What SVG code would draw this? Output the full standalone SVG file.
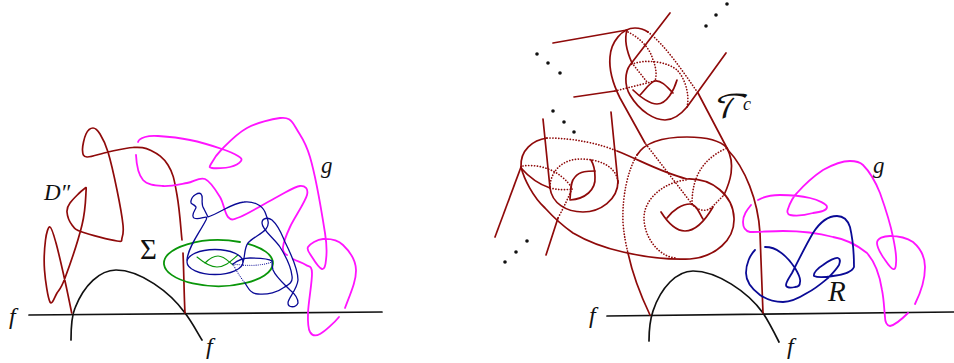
<svg xmlns="http://www.w3.org/2000/svg" width="954" height="363" viewBox="0 0 954 363">
<style>
path,ellipse{fill:none;stroke-linecap:round;stroke-linejoin:round}
.k{stroke:#111;stroke-width:1.7}
.r{stroke:#8f0a0a;stroke-width:1.7}
.d{stroke:#8f0a0a;stroke-width:1.7;stroke-dasharray:.1 2.8}
.m{stroke:#ff14ff;stroke-width:1.8}
.b{stroke:#0a0a96;stroke-width:1.3}
.bd{stroke:#0a0a96;stroke-width:1.1;stroke-dasharray:.1 2}
.bw{stroke:#0a0a96;stroke-width:1.8}
.g{stroke:#0a960a;stroke-width:1.8}
.gt{stroke:#0a960a;stroke-width:1.1}
text{font-family:"Liberation Serif","DejaVu Serif",serif;font-style:italic;fill:#111}
circle{fill:#111}
</style>
<g id="connectors">
<path class="k" d="M29 315 L382 312"/>
<path class="k" d="M71 340 C71 325 72 315 75 308 C84 285 100 270 116 270 C140 270 170 292 185 313 C192 322 197 332 202 340"/>
<path class="k" d="M607 316 L954 312"/>
<path class="k" d="M649 341 C649 328 650 320 653 311 C661 287 677 271 693 271 C717 271 748 292 763 313 C769 322 774 332 779 342"/>
</g>
<g id="D-curve">
<path class="r" d="M71.7 313 C71.7 313 67.6 292.7 65 281 S58.5 252 56 243 S51.75 227.5 50 227 S46.4 232.8 45.5 240 S43.75 259.7 44.5 270 S47.9 298.2 50 302 S54.5 297 57 293 S60.8 289.3 65 278 S78.5 239.3 82 225 S85.7 198 86 192 S86.7 187.2 84 189 S72.8 199.2 70 203 S66.7 208.3 67 212 S69.5 221.7 72 225 S74.5 229.3 82 232 S110.3 240 117 241 S121 240.7 122 238 S123.8 233 123 225 S119.5 202.2 117 190 S110.8 161.3 108 152 S102.5 138 100 134 S95.3 128 93 128 S87.75 130.3 86 134 S82.3 146.2 82.5 150 S82.75 156.7 87 157 S100.3 153.6 108 152 S126 147.7 133 147.5 S144 147 151 150.5 S163 157 168 165 S174 178 177 195 S181 232 182 240"/>
<path class="r" d="M183 253 C184 275 184 295 185 313"/>
</g>
<g id="g-left">
<path class="m" d="M138 142 C139 139 141.7 138 145 137 S150.5 135.5 158 136 S179.3 137.8 190 140 S214 146.3 222 149 S234.8 154 238 156 S242.3 159.2 241 161 S234.8 165.8 230 167 S215.2 168.5 212 168 S209.3 167.2 211 164 S216 155 222 149 S237.3 133.2 247 128 S272.3 119 280 118 S291 119 296 128 S305 140 310 157 S322.3 215.8 325 233 S326.5 254 326 260 S324.3 269.5 322 269 S314.3 260.7 312 257 S306.2 250 308 247 S317.2 239.3 323 239 S337.5 239.8 343 245 S355.7 259.5 356 270 S351 292 345 308"/>
<path class="m" d="M339 317 C335 322 324.8 331.5 320 334 S312 335.5 310 332 S307.7 322.8 308 313 S312.3 281 312 273 S309.2 267.3 306 265 S298 261.5 293 259"/>
<path class="m" d="M287 255 C285 254 282.5 251.7 283 247 S286 235.7 290 227 S305.3 201.8 307 195 S305 185.7 300 186 S287 191.8 277 197 S248.2 213.7 240 217 S231.3 220.3 228 217 S223.8 203.3 220 197 S210.5 181.3 205 179 S194 181.8 187 183 S170.3 186.5 163 186 S147.5 185.2 143 180 S136.5 165 136 155"/>
</g>
<g id="sigma">
<path class="g" d="M248 243.8 A54.5 23 0 1 1 240 242"/>
<path class="gt" d="M197 257 C203 262 210 267 217 267 C226 267 232 260 238 255"/>
<path class="gt" d="M205 263 C209 259 213 256 218 256 C224 256 228 261 233 265"/>
</g>
<g id="R-left">
<ellipse class="b" cx="215" cy="262" rx="28" ry="12.5"/>
<path class="b" d="M187 260 C188 247 200 232 206 220 C209 213 200 221 194 218 C190 215 197 208 196 207 C193 203 190 205 191 201 C192 195 199 192 201 194 C204 197 200 204 204 209 C206 213 208 217 208 217 C222 212 232 203 244 202 C253 201 262 205 265 212 C268 220 270 224 266 229 C262 234 252 238 248 243 C244 248 245 258 243 262"/>
<path class="b" d="M233 264 C238 260 243 258 250 258 C258 258 268 258 272 261"/>
<path class="bd" d="M233 264 C245 266 262 266 272 262"/>
<path class="bd" d="M233 264 C236 270 240 277 245 283"/>
<path class="b" d="M245 283 C249 290 252 294 258 294 C268 295 278 292 283 288 C290 284 293 282 292 276 C291 266 285 255 280 247 C274 238 262 230 262 223 C262 218 268 217 272 220 C279 226 282 235 285 242 C290 252 298 268 298 280 C297 290 288 298 288 303 C288 308 296 308 298 303 C298 298 295 294 290 290 C283 283 276 277 273 270 C272 266 272 264 272 261"/>
</g>
<g id="torus-lower">
<path class="r" d="M521 167 C524 179 533 197 545 208 C555 219 563 226 573 233 C590 243 605 248 623 252 C645 257 670 260 690 259 C715 257 735 240 734 218 C733 195 712 178 687 179 C660 172 640 160 617 151"/>
<path class="r" d="M547 138 C533 140 520 150 521 167"/>
<path class="d" d="M547 138 C575 138 600 144 617 151"/>
<path class="r" d="M550 188 C552 203 566 212 583 212 C600 212 618 200 618 181"/>
<path class="d" d="M618 181 C615 165 598 159 580 159 C564 159 550 170 550 188"/>
<path class="r" d="M521 168 C528 176 538 184 550 188"/>
<path class="d" d="M523 166 C535 164 552 168 562 177 C567 181 570 185 572 188"/>
<path class="d" d="M550 188 C558 190 565 190 572 189"/>
<path class="r" d="M570 199 C571 190 570 182 575 177 C580 171 588 171 595 171"/>
<path class="r" d="M591 160 C594 165 595 171 595 177 C596 190 585 199 570 200"/>
<path class="d" d="M572 189 C568 198 564 207 558 218"/>
<path class="r" d="M558 218 L546 255"/>
<path class="r" d="M543 119 L550 188"/>
<path class="r" d="M611 112 L618 183"/>
<path class="r" d="M521 167 L495 237"/>
<path class="d" d="M686 180 C665 182 644 198 644 218 C644 238 660 258 677 258"/>
<path class="r" d="M661 212 C668 223 677 231 685 231 C697 231 706 219 713 207"/>
<path class="r" d="M667 218 C673 210 682 204 690 204 C697 204 700 215 703 219"/>
<path class="d" d="M692 204 C692 180 700 160 727 148"/>
<path class="d" d="M692 204 L645 143"/>
<path class="d" d="M692 204 C697 210 706 213 712 207 C716 203 720 199 724 195"/>
<path class="r" d="M724 195 C730 182 736 165 727 148 C720 140 705 137 687 137 C665 137 645 142 637 155"/>
<path class="d" d="M637 155 C628 170 622 195 623 223 C624 235 626 245 628 253"/>
<path class="r" d="M628 253 C632 272 640 294 650 315"/>
</g>
<g id="torus-upper">
<path class="r" d="M645 143 L620 98 C612 82 609 68 610 57 C611 42 622 28 635 28 C640 28 645 30 648 32"/>
<path class="d" d="M648 32 C665 45 682 70 698 93"/>
<path class="r" d="M698 93 L728 150 C745 168 758 200 760 233 C761 260 762 290 763 313"/>
<path class="r" d="M553 43 L627 30"/>
<path class="r" d="M670 13 L630 65 C625 72 624 85 630 95 C640 112 655 120 665 120 C675 120 682 113 687 107 L726 53"/>
<path class="d" d="M687 107 C690 95 685 78 677 70 C668 62 645 58 630 65"/>
<path class="r" d="M627 30 C624 40 627 52 632 63"/>
<path class="d" d="M632 63 L647 82"/>
<path class="d" d="M628 32 C640 38 650 48 653 60 C656 67 657 75 655 81"/>
<path class="r" d="M633 90 C640 97 650 104 657 104 C667 104 674 90 677 80"/>
<path class="r" d="M640 95 C645 90 650 82 655 81 C662 80 668 88 673 93"/>
<path class="r" d="M574 97 L615 91"/>
<path class="d" d="M615 91 L655 81"/>
</g>
<g id="g-right">
<path class="m" d="M758 200 C765 196 772 195 780 195 C790 195 802 196 810 198 C818 200 827 204 827 207 C827 211 820 212 813 213 C806 215 796 216 790 215 C787 214 787 211 788 209 C790 203 792 198 797 193 C805 184 814 176 823 170 C832 165 842 161 850 161 C856 161 860 162 863 165 C870 172 876 183 880 193 C885 207 890 222 893 237 C895 247 897 256 896 263 C896 267 895 270 893 269 C890 268 886 261 883 257 C880 252 877 248 877 243 C877 238 884 236 890 236 C899 236 907 238 913 242 C920 248 925 257 925 267 C925 281 920 294 915 304"/>
<path class="m" d="M908 313 C903 318 895 325 890 326 C887 326 885 322 885 317 C884 308 884 300 882 290 C880 277 875 262 867 253 C857 245 845 239 833 237 C818 233 800 231 783 231 C772 231 760 232 750 232 C745 231 743 227 743 222 C743 215 747 210 751 205"/>
</g>
<g id="R-right">
<path class="bw" d="M765 247 C771 247 775 248 780 252 C786 256 791 262 795 268 C798 273 801 279 800 282 C800 286 797 287 795 287 C791 288 786 288 786 285 C786 282 789 278 792 273 C798 261 806 245 813 233 C820 222 828 216 837 216 C844 216 848 221 850 227 C853 240 854 254 854 267 C852 272 842 275 833 276 C827 277 818 278 814 276 C813 273 818 268 823 265 C828 261 836 257 838 258 C841 259 840 262 839 265 C836 270 832 274 828 278 C822 283 815 289 807 293 C799 298 791 302 783 302 C775 302 766 299 760 295 C752 289 746 282 746 273 C746 264 750 255 755 250"/>
</g>
<g id="dots">
<circle cx="553" cy="111" r="1.8"/><circle cx="564" cy="122" r="1.8"/><circle cx="574" cy="132" r="1.8"/>
<circle cx="527" cy="241" r="1.8"/><circle cx="516" cy="252" r="1.8"/><circle cx="505" cy="262" r="1.8"/>
<circle cx="727" cy="4" r="1.8"/><circle cx="716" cy="15" r="1.8"/><circle cx="706" cy="26" r="1.8"/>
<circle cx="537" cy="54" r="1.8"/><circle cx="548" cy="63" r="1.8"/><circle cx="560" cy="73" r="1.8"/>
</g>
<g id="labels">
<text x="9" y="324" font-size="24">f</text>
<text x="206" y="354" font-size="24">f</text>
<text x="589" y="323" font-size="24">f</text>
<text x="787" y="354" font-size="24">f</text>
<text x="44" y="200" font-size="23">D″</text>
<text x="140" y="259" font-size="29" style="font-style:normal">Σ</text>
<text x="321" y="173" font-size="23">g</text>
<text x="873" y="173" font-size="23">g</text>
<text x="828" y="301" font-size="29">R</text>
<text x="711" y="118" font-size="32" style="font-family:'DejaVu Math TeX Gyre','Liberation Serif',serif">𝒯</text>
<text x="743" y="110" font-size="18">c</text>
</g>
</svg>
